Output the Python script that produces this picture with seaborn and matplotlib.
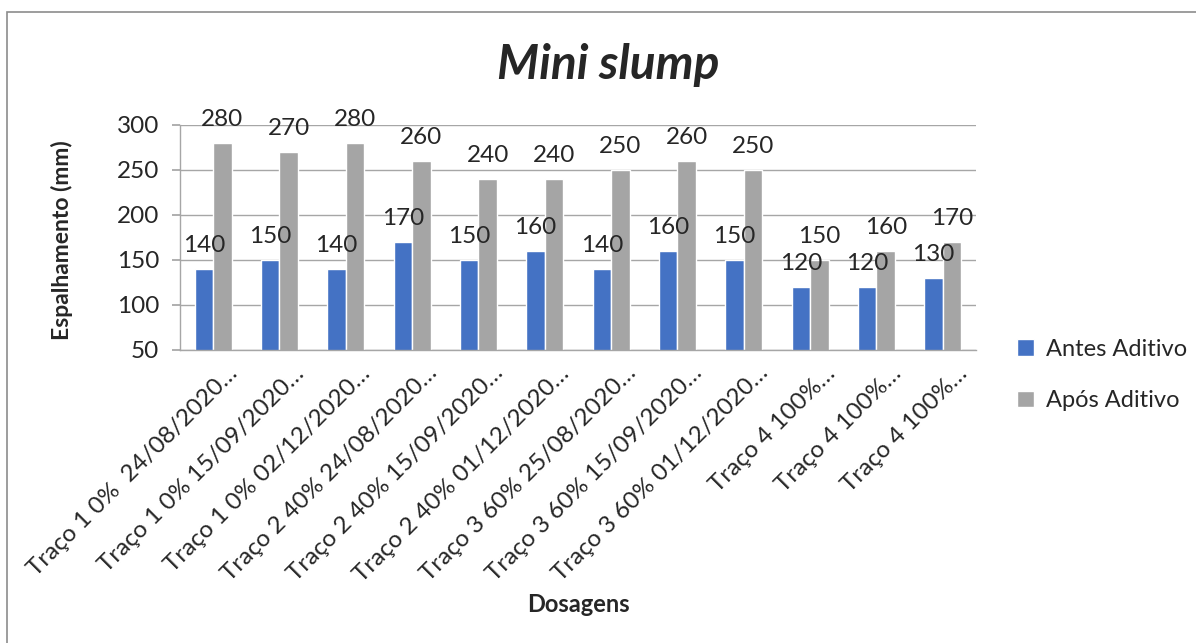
import matplotlib
matplotlib.use("Agg")
import matplotlib.pyplot as plt
import matplotlib.transforms as mtransforms
import seaborn as sns
import pandas as pd
from matplotlib.patches import Rectangle

# Mixes (dosages) tested
dosagens = [
    "Traço 1 0%  24/08/2020…",
    "Traço 1 0% 15/09/2020…",
    "Traço 1 0% 02/12/2020…",
    "Traço 2 40% 24/08/2020…",
    "Traço 2 40% 15/09/2020…",
    "Traço 2 40% 01/12/2020…",
    "Traço 3 60% 25/08/2020…",
    "Traço 3 60% 15/09/2020…",
    "Traço 3 60% 01/12/2020…",
    "Traço 4 100%…",
    "Traço 4 100%…",
    "Traço 4 100%…",
]
# Spread (mm) before and after the additive
antes_aditivo = [140, 150, 140, 170, 150, 160, 140, 160, 150, 120, 120, 130]
apos_aditivo = [280, 270, 280, 260, 240, 240, 250, 260, 250, 150, 160, 170]
series = ["Antes Aditivo", "Após Aditivo"]
y_ticks = [50, 100, 150, 200, 250, 300]

sns.set_theme(style="white")
plt.rcParams["font.family"] = ["Lato", "DejaVu Sans"]

# Unique keys per position so repeated names stay as separate bars
keys = [f"{i}" for i in range(len(dosagens))]
df = pd.DataFrame({
    "pos": keys * 2,
    "valor": antes_aditivo + apos_aditivo,
    "serie": [series[0]] * len(keys) + [series[1]] * len(keys),
})

fig = plt.figure(figsize=(11.96, 6.43), dpi=100)
ax = fig.add_axes([0.1505, 0.4557, 0.6655, 0.3499])

sns.barplot(data=df, x="pos", y="valor", hue="serie", order=keys,
            hue_order=series, palette=["#4472C4", "#A5A5A5"],
            width=0.56, saturation=1, ax=ax, legend=True)

ax.set_ylim(50, 300)
ax.set_yticks(y_ticks)
ax.set_xlim(-0.5, len(keys) - 0.5)
ax.yaxis.grid(True, color="#A6A6A6", linewidth=1)
ax.set_axisbelow(True)
for s in ["top", "right"]:
    ax.spines[s].set_visible(False)
for s in ["left", "bottom"]:
    ax.spines[s].set_color("#A6A6A6")
    ax.spines[s].set_linewidth(1)

ax.tick_params(axis="y", which="major", length=6, color="#A6A6A6",
               labelsize=17.5, pad=9, left=True)
ax.tick_params(axis="x", length=0, labelsize=17.5, pad=9)
ax.set_xticks(range(len(keys)))
ax.set_xticklabels(dosagens, rotation=45, ha="right", rotation_mode="anchor")
shift = mtransforms.ScaledTranslation(14 / 100, 0, fig.dpi_scale_trans)
for lbl in ax.get_xticklabels():
    lbl.set_transform(lbl.get_transform() + shift)

# Value labels above each bar
for cont in ax.containers:
    ax.bar_label(cont, fmt="%d", fontsize=17.5, padding=9)

ax.set_xlabel("Dosagens", fontsize=17, fontweight="bold")
ax.set_ylabel("Espalhamento (mm)", fontsize=16.5, fontweight="bold")
ax.xaxis.set_label_coords(578 / 1196, 1 - 605 / 643, transform=fig.transFigure)
ax.xaxis.label.set_va("center")
ax.yaxis.set_label_coords(62 / 1196, 1 - 240 / 643, transform=fig.transFigure)
ax.yaxis.label.set_va("center")

fig.text(608 / 1196, 1 - 65 / 643, "Mini slump", fontsize=34.5,
         fontweight="bold", fontstyle="italic", ha="center", va="center")

leg = ax.legend(loc="center left", bbox_to_anchor=(996 / 1196, 1 - 375 / 643),
                bbox_transform=fig.transFigure, frameon=False, fontsize=17,
                handlelength=0.7, handleheight=0.7, handletextpad=0.5,
                labelspacing=1.3, title=None)

# Chart frame
fig.patches.append(Rectangle((7 / 1196, -0.05), 1.1, 1 - 12 / 643 + 0.05,
                             transform=fig.transFigure, fill=False,
                             edgecolor="#8C8C8C", linewidth=1.2))

fig.savefig("out.png", dpi=100, facecolor="white")
